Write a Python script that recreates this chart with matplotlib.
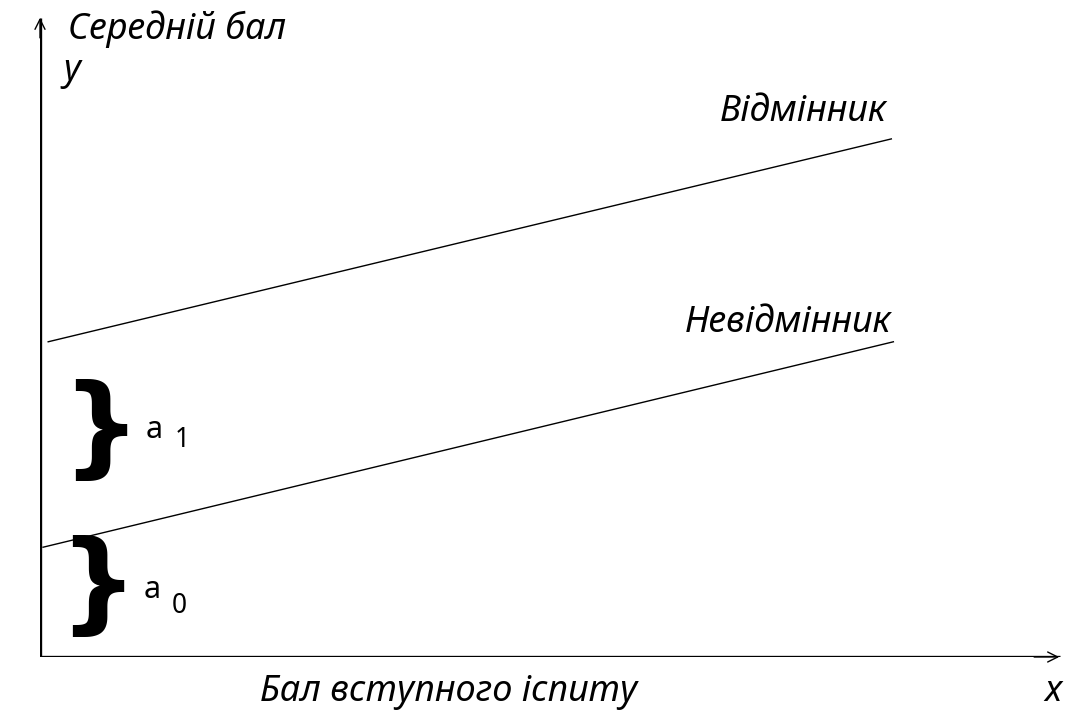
import numpy as np
import matplotlib.pyplot as plt

plt.rcParams['font.family'] = ['Noto Sans', 'DejaVu Sans']

# regression lines (abstract units, origin at axes corner)
x_top = [0.08, 8.33]
y_top = [4.91, 8.07]
x_low = [0.03, 8.35]
y_low = [1.71, 4.91]

labels = {'top': 'Відмінник', 'low': 'Невідмінник'}
ylab = 'Середній бал'
xlab = 'Бал вступного іспиту'

# braces: brace x, brace y, label x, label y, subscript, sub x, sub y
braces = [(0.59, 3.50, 1.03, 3.54, '1', 1.32, 3.38),
          (0.56, 1.07, 1.01, 1.04, '0', 1.29, 0.79)]

fig = plt.figure(figsize=(10.8, 7.12), dpi=100)
ax = fig.add_axes([40/1080, 55/712, 1022/1080, 642/712])
ax.set_xlim(0, 10)
ax.set_ylim(0, 10)
ax.axis('off')

# axes with arrows
ax.plot([0, 0], [0, 9.95], color='black', lw=2.4, solid_capstyle='butt')
ax.plot([-0.01, 9.98], [0, 0], color='black', lw=2.4, solid_capstyle='butt')
ax.annotate('', xy=(0, 10), xytext=(0, 9.6),
            arrowprops=dict(arrowstyle='->', lw=1, color='black', mutation_scale=18))
ax.annotate('', xy=(10, 0), xytext=(9.7, 0),
            arrowprops=dict(arrowstyle='->', lw=1, color='black', mutation_scale=18))

ax.plot(x_top, y_top, color='black', lw=1)
ax.plot(x_low, y_low, color='black', lw=1)

fs = 26
ax.text(6.65, 8.49, labels['top'], fontsize=fs, style='italic', ha='left', va='center')
ax.text(6.31, 5.20, labels['low'], fontsize=fs, style='italic', ha='left', va='center')

ax.text(0.27, 9.78, ylab, fontsize=fs, style='italic', ha='left', va='center')
ax.text(0.225, 9.12, 'y', fontsize=fs, style='italic', ha='left', va='center')
ax.text(4.0, -0.55, xlab, fontsize=fs, style='italic', ha='center', va='center')
ax.text(9.91, -0.55, 'x', fontsize=fs, style='italic', ha='center', va='center')

for bx, by, lx, ly, sub, sx, sy in braces:
    ax.text(bx, by, '}', fontsize=80, fontweight='bold', ha='center', va='center',
            family='DejaVu Sans')
    ax.text(lx, ly, 'a', fontsize=22, ha='left', va='center')
    ax.text(sx, sy, sub, fontsize=19, ha='left', va='center')

fig.savefig('out.png', dpi=100)
